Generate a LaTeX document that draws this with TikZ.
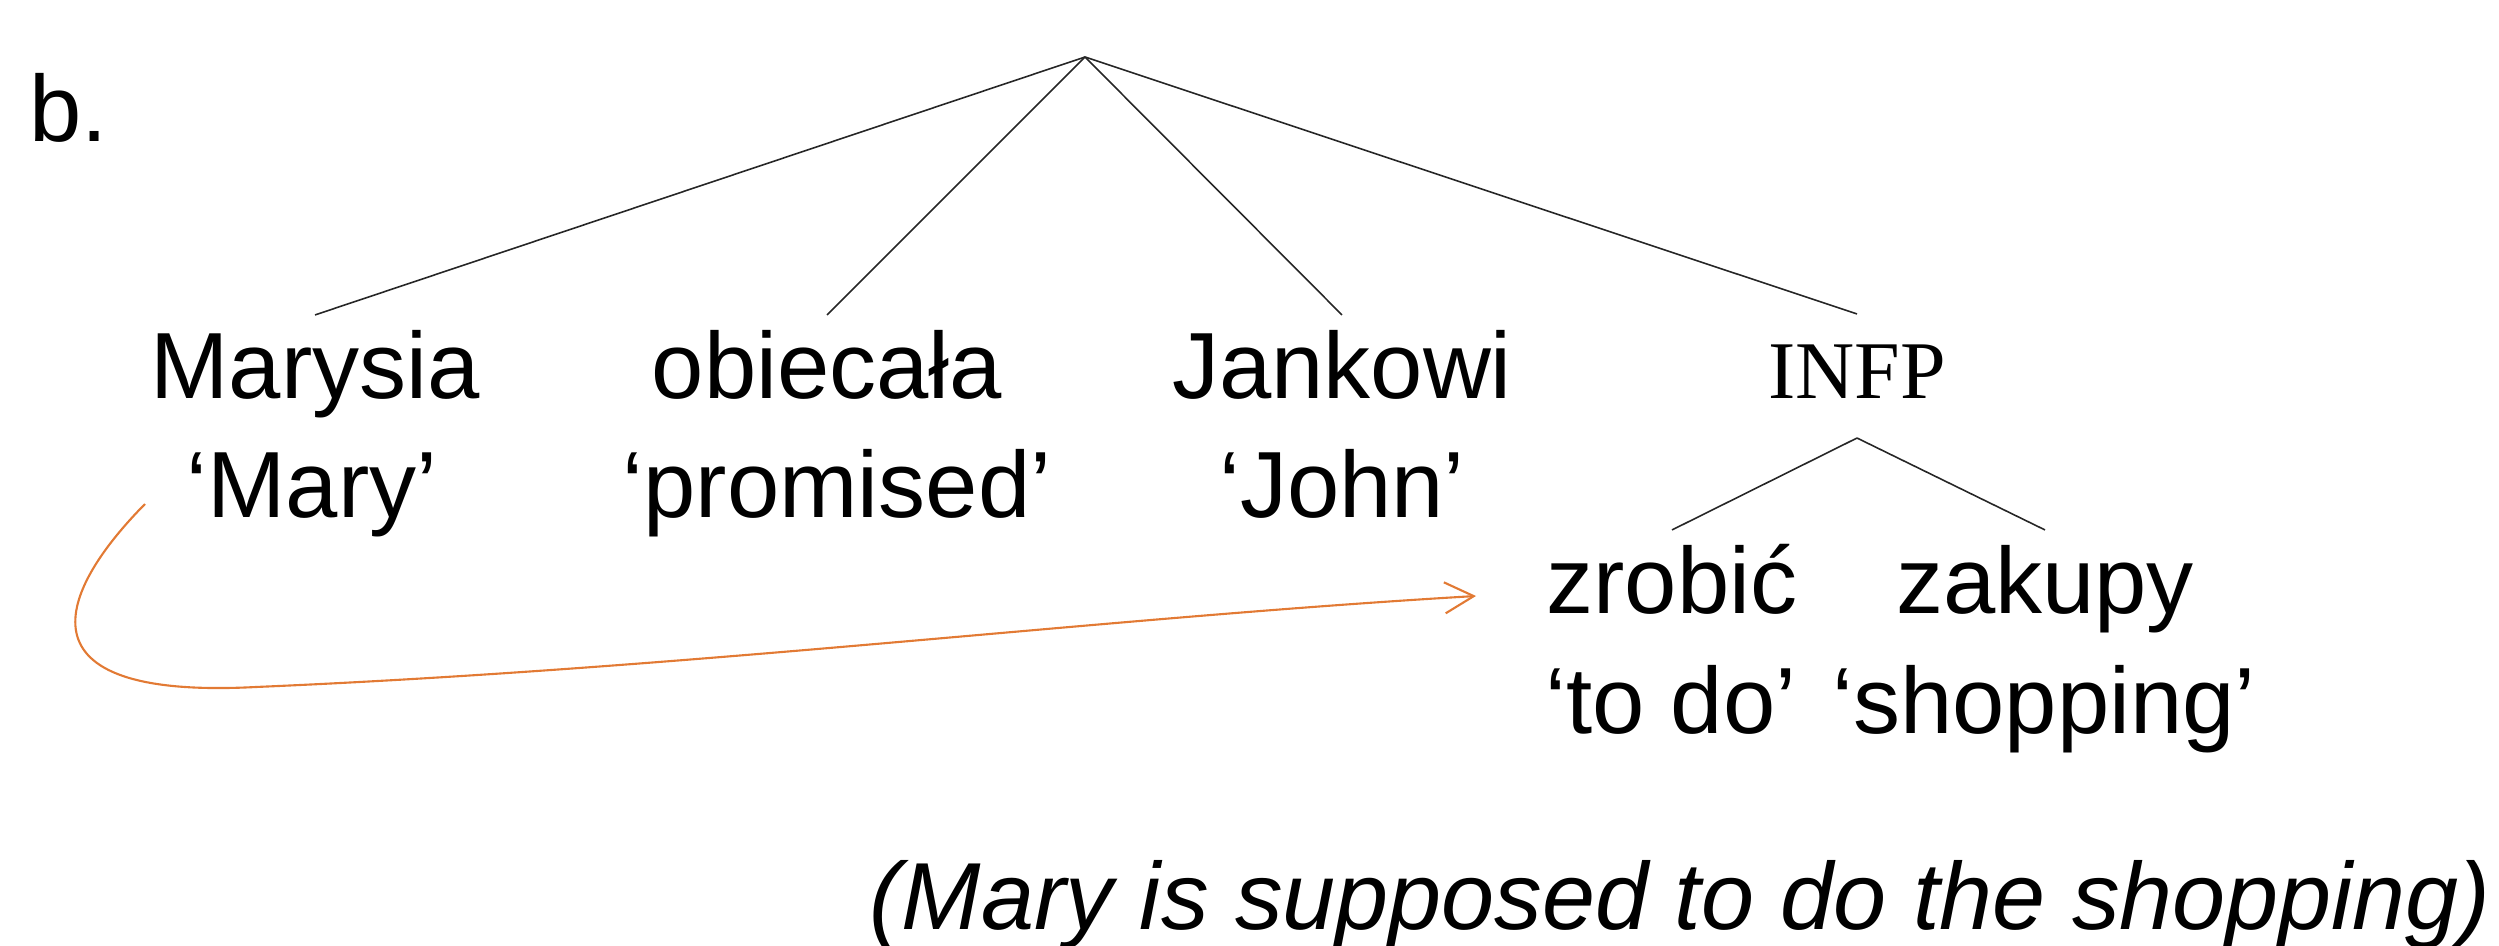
\documentclass[tikz,border=0pt]{standalone}
\usepackage{fontspec}
\setmainfont{Liberation Sans}
\newfontfamily\serifinfp{Liberation Serif}
\usetikzlibrary{arrows.meta}
\definecolor{arrowor}{RGB}{226,122,52}
\begin{document}
\begin{tikzpicture}[x=0.01cm,y=-0.01cm,
  bigfont/.style={font=\fontsize{26.74pt}{32pt}\selectfont},
  word/.style={bigfont, inner sep=0pt, outer sep=0pt, anchor=base, text height=0.84cm},
  gloss/.style={bigfont, inner sep=0pt, outer sep=0pt, anchor=base},
  branch/.style={draw=black!85, line width=0.45pt},
  link/.style={draw=arrowor, line width=0.6pt, line join=miter,
    -{Straight Barb[length=0.29cm,width=0.31cm]}}]
\useasboundingbox (0,0) rectangle (2499,946);
% root of the tree
\coordinate (root) at (1085,57);
% label
\node[gloss, anchor=base west] (label) at (29,142) {b.};
% words
\node[word] (marysia) at (315,399) {Marysia};
\node[word] (obiecala) at (827,399) {obiecała};
\node[word] (jankowi) at (1342,399) {Jankowi};
\node[word, font=\serifinfp\fontsize{23.3pt}{28pt}\selectfont,
      text height=0.85cm, text depth=0.39cm] (infp) at (1857,399) {INFP};
\node[word] (zrobic) at (1672,614) {zrobić};
\node[word] (zakupy) at (2045,614) {zakupy};
% glosses
\node[gloss] (gmary) at (312,518) {‘Mary’};
\node[gloss] (gpromised) at (837,518) {‘promised’};
\node[gloss] (gjohn) at (1342,518) {‘John’};
\node[gloss] (gtodo) at (1671,733) {‘to do’};
\node[gloss] (gshopping) at (2044,733) {‘shopping’};
% caption
\node[gloss, anchor=base east, font={\fontsize{27.1pt}{32pt}\selectfont\itshape}] (caption)
  at (2491,929) {(Mary is supposed to do the shopping)};
% branches
\draw[branch] (root) -- (marysia.north);
\draw[branch] (root) -- (obiecala.north);
\draw[branch] (root) -- (jankowi.north);
\draw[branch] (root) -- (infp.north);
\draw[branch] (infp.south) -- (zrobic.north);
\draw[branch] (infp.south) -- (zakupy.north);
% control arrow
\coordinate (arrS) at (145,504);
\coordinate (arrE) at (1476,596);
\draw[link] (arrS) .. controls (60,590) and (10,700) .. (256,687)
  .. controls (700,668) and (1100,618) .. (arrE);
\end{tikzpicture}
\end{document}
